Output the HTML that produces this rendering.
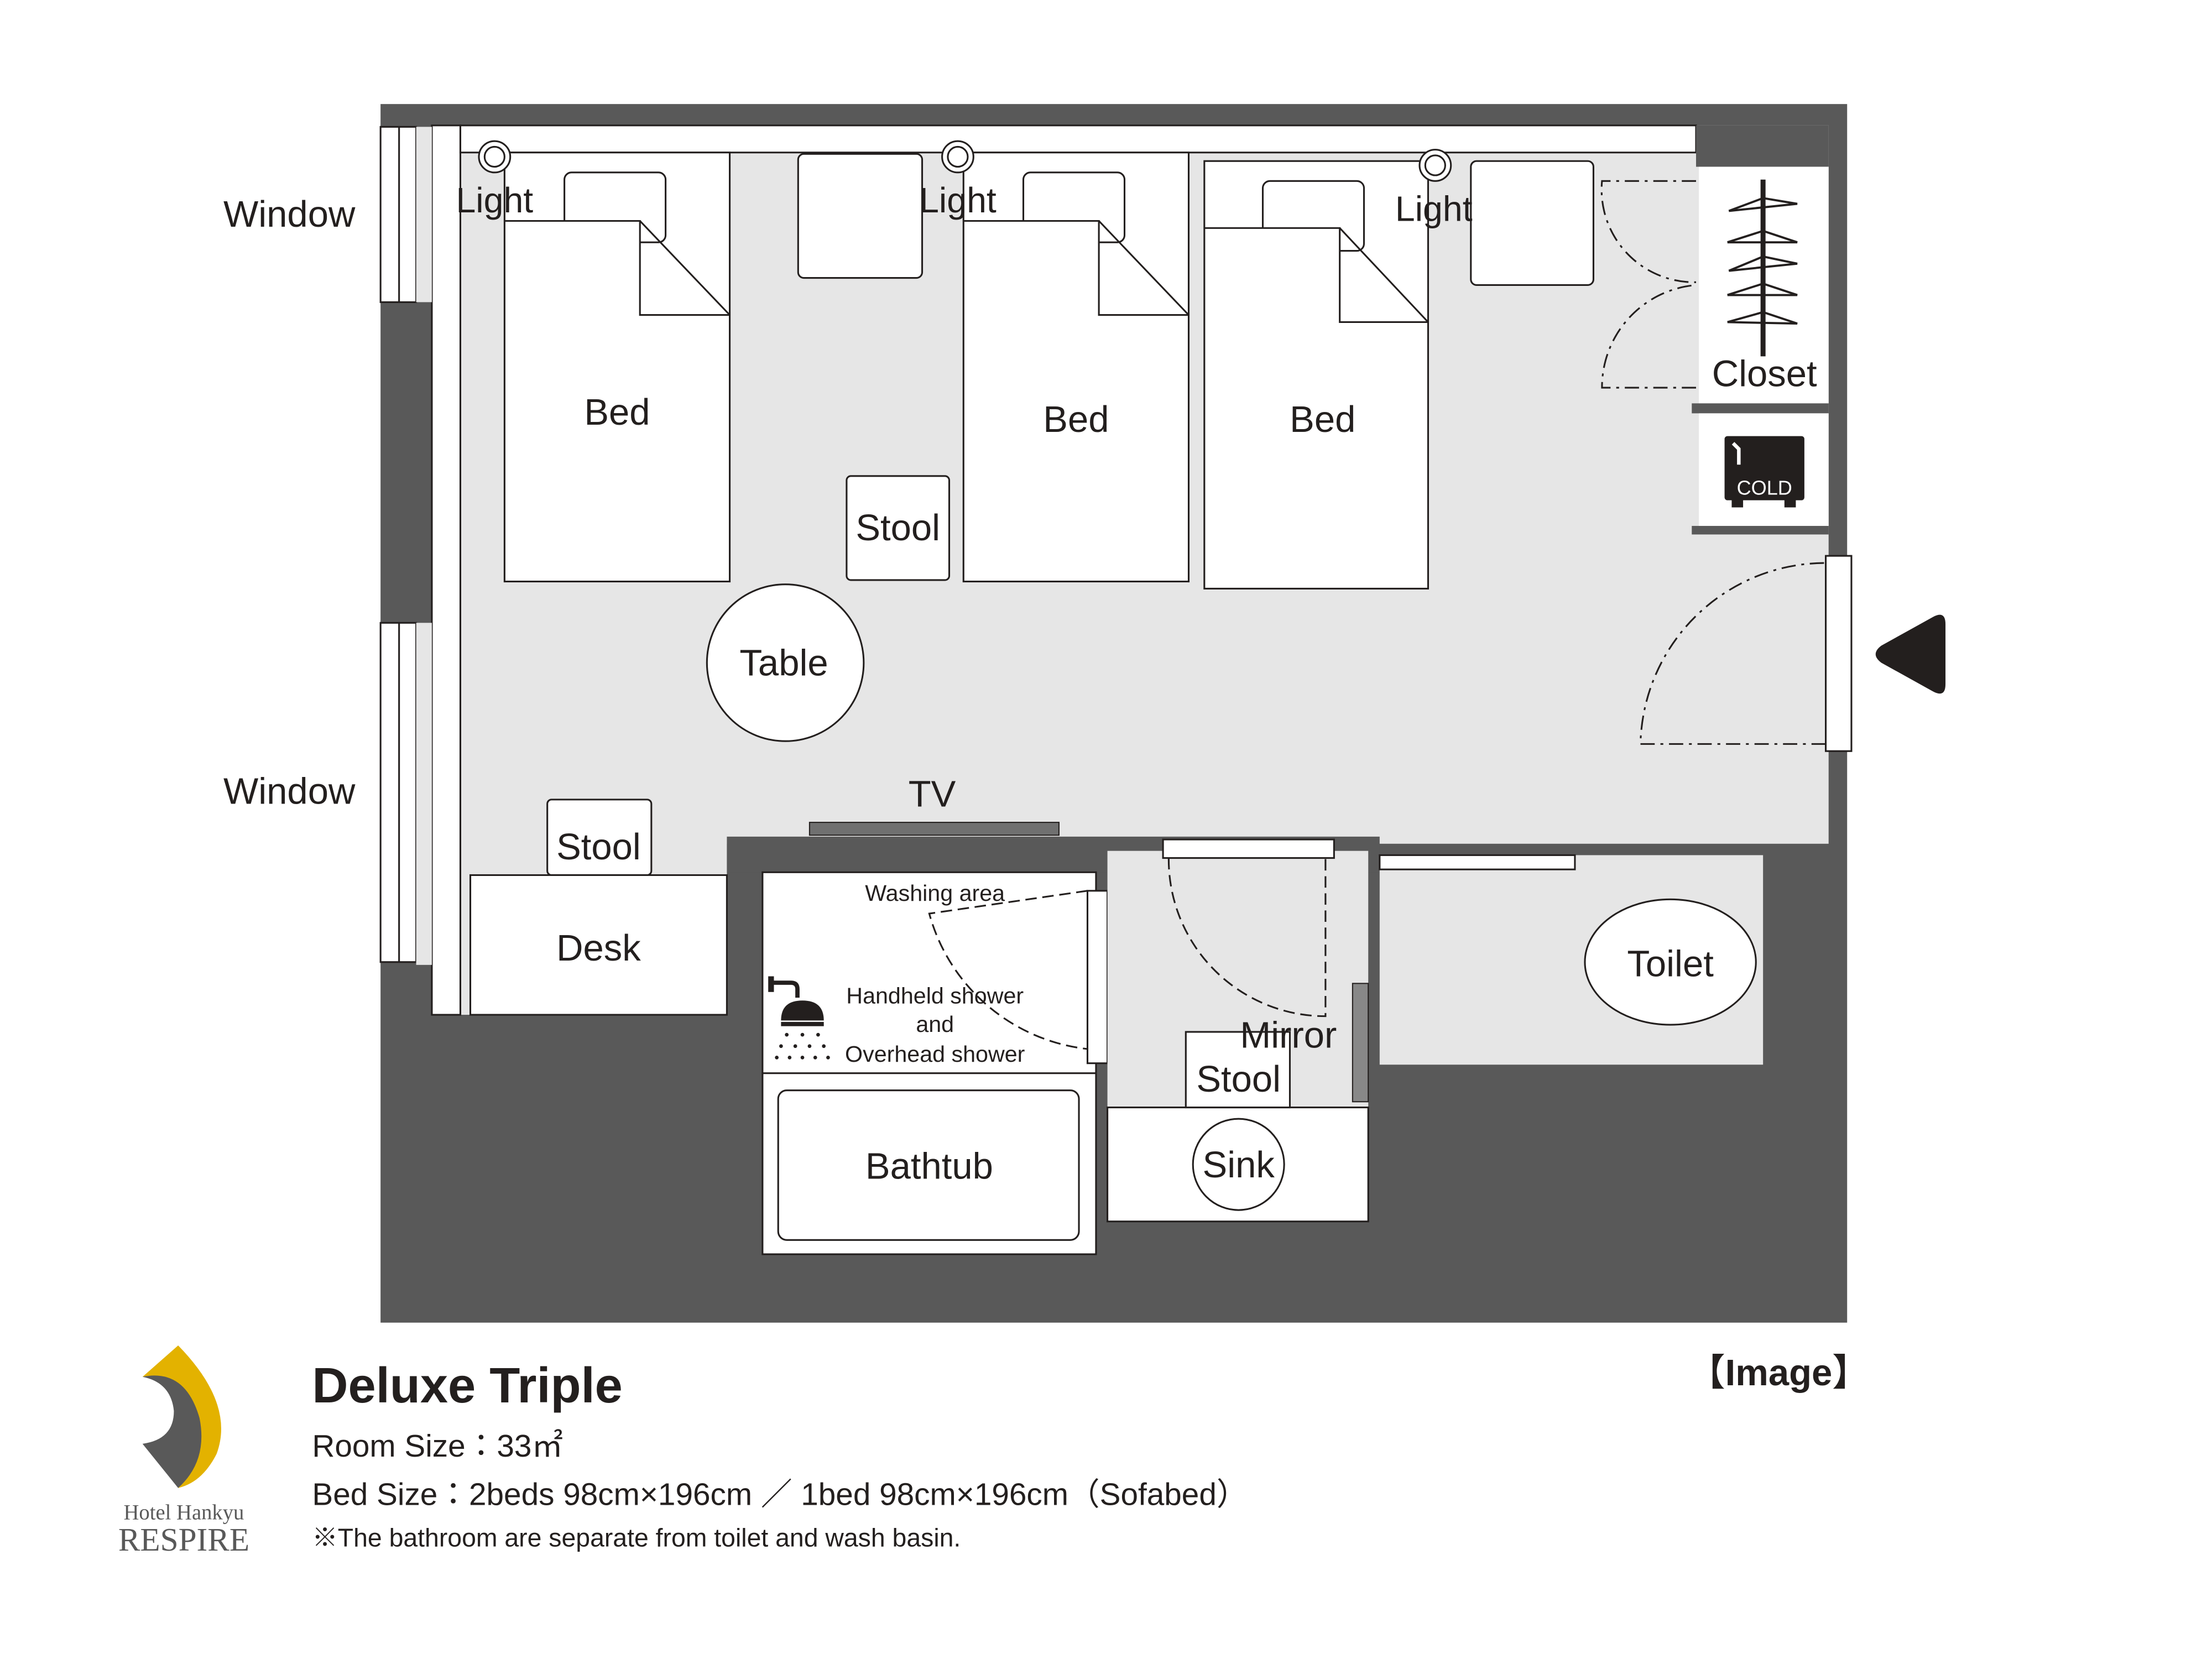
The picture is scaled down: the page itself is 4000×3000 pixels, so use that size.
<!DOCTYPE html>
<html><head><meta charset="utf-8"><style>
html,body{margin:0;padding:0;background:#fff;}
svg{display:block;}
text{font-family:"Liberation Sans","Noto Sans CJK JP",sans-serif;fill:#231f1e;}
</style></head><body>
<svg width="4000" height="3000" viewBox="0 0 1552 1164" preserveAspectRatio="none" xmlns="http://www.w3.org/2000/svg">
<rect width="1552" height="1164" fill="#fff"/>
<!-- outer dark -->
<rect x="267" y="73" width="1029" height="855" fill="#595959"/>
<!-- main floor -->
<rect x="303" y="88" width="980" height="504" fill="#e6e6e6"/>
<rect x="303" y="587" width="207" height="125" fill="#e6e6e6"/>
<rect x="510" y="587" width="458" height="25" fill="#595959"/>
<!-- left white strip -->
<rect x="303" y="88" width="20" height="624" fill="#fff" stroke="#231f1e" stroke-width="1.2"/>
<!-- top strip -->
<rect x="323" y="88" width="867" height="19" fill="#fff" stroke="#231f1e" stroke-width="1.2"/>
<!-- closet & fridge -->
<rect x="1190" y="88" width="93" height="29" fill="#595959"/>
<rect x="1192" y="117" width="91" height="166" fill="#fff"/>
<rect x="1187" y="283" width="96" height="7" fill="#595959"/>
<rect x="1192" y="290" width="91" height="79" fill="#fff"/>
<rect x="1187" y="369" width="96" height="6" fill="#595959"/>
<g stroke="#231f1e" fill="none">
<line x1="1237" y1="126" x2="1237" y2="250" stroke-width="3.5"/>
<g stroke-width="1.5">
<path d="M1213,148 L1237,139 L1261,143 L1213,148"/>
<path d="M1212,170 L1237,162 L1261,170 L1212,170"/>
<path d="M1213,190 L1237,180 L1261,185 L1213,190"/>
<path d="M1212,207 L1237,199 L1261,207 L1212,207"/>
<path d="M1212,226 L1237,219 L1261,227 L1212,226"/>
</g></g>
<text x="1238" y="271" font-size="26" text-anchor="middle">Closet</text>
<rect x="1210" y="306" width="56" height="45" rx="2" fill="#231f1e"/>
<rect x="1215" y="350" width="8" height="6" fill="#231f1e"/><rect x="1252" y="350" width="8" height="6" fill="#231f1e"/>
<path d="M1216,311 L1220,315 L1220,326" stroke="#fff" stroke-width="2.5" fill="none"/>
<text x="1238" y="347" font-size="14" text-anchor="middle" style="fill:#fff">COLD</text>
<!-- windows -->
<g fill="#fff" stroke="#231f1e" stroke-width="1.2">
<rect x="267" y="89" width="25" height="123"/><line x1="280" y1="89" x2="280" y2="212"/>
<rect x="267" y="437" width="25" height="238"/><line x1="280" y1="437" x2="280" y2="675"/>
</g>
<rect x="292" y="89" width="11" height="123" fill="#e6e6e6"/>
<rect x="292" y="437" width="11" height="240" fill="#e6e6e6"/>
<text x="203" y="159" font-size="26" text-anchor="middle">Window</text>
<text x="203" y="564" font-size="26" text-anchor="middle">Window</text>
<!-- beds -->
<g fill="#fff" stroke="#231f1e" stroke-width="1.2">
<rect x="354" y="107" width="158" height="301"/>
<rect x="396" y="121" width="71" height="49" rx="5"/>
<path d="M354,155 L449,155 L449,221 L512,221 M449,155 L512,221"/>
<rect x="676" y="107" width="158" height="301"/>
<rect x="718" y="121" width="71" height="49" rx="5"/>
<path d="M676,155 L771,155 L771,221 L834,221 M771,155 L834,221"/>
<rect x="845" y="113" width="157" height="300"/>
<rect x="886" y="127" width="71" height="49" rx="5"/>
<path d="M845,160 L940,160 L940,226 L1002,226 M940,160 L1002,226"/>
<rect x="560" y="108" width="87" height="87" rx="4"/>
<rect x="1032" y="113" width="86" height="87" rx="4"/>
<rect x="594" y="334" width="72" height="73" rx="3"/>
<circle cx="551" cy="465" r="55"/>
<rect x="384" y="561" width="73" height="53" rx="3"/>
<rect x="330" y="614" width="180" height="98"/>
</g>
<g fill="#fff" stroke="#231f1e" stroke-width="1.2">
<circle cx="347" cy="110" r="11"/><circle cx="347" cy="110" r="7"/>
<circle cx="672" cy="110" r="11"/><circle cx="672" cy="110" r="7"/>
<circle cx="1007" cy="116" r="11"/><circle cx="1007" cy="116" r="7"/>
</g>
<text x="433" y="298" font-size="26" text-anchor="middle">Bed</text>
<text x="755" y="303" font-size="26" text-anchor="middle">Bed</text>
<text x="928" y="303" font-size="26" text-anchor="middle">Bed</text>
<text x="347" y="149" font-size="25" text-anchor="middle">Light</text>
<text x="672" y="149" font-size="25" text-anchor="middle">Light</text>
<text x="1006" y="155" font-size="25" text-anchor="middle">Light</text>
<text x="630" y="379" font-size="26" text-anchor="middle">Stool</text>
<text x="550" y="474" font-size="26" text-anchor="middle">Table</text>
<text x="420" y="603" font-size="26" text-anchor="middle">Stool</text>
<text x="420" y="674" font-size="26" text-anchor="middle">Desk</text>
<text x="654" y="566" font-size="26" text-anchor="middle">TV</text>
<rect x="568" y="577" width="175" height="9" fill="#707070" stroke="#231f1e" stroke-width="0.8"/>
<!-- closet doors dashed -->
<g fill="none" stroke="#231f1e" stroke-width="1.2" stroke-dasharray="10,4,2,4">
<path d="M1190,127 L1124,127 A65,65 0 0,0 1190,198"/>
<path d="M1190,272 L1124,272 A72,72 0 0,1 1190,200"/>
<path d="M1281,522 L1151,522 A130,130 0 0,1 1281,395"/>
</g>
<rect x="1281" y="390" width="18" height="137" fill="#fff" stroke="#231f1e" stroke-width="1.2"/>
<path d="M1320,453 L1356,433 Q1365,428 1365,438 L1365,480 Q1365,490 1356,485 L1320,465 Q1312,459 1320,453 Z" fill="#231f1e"/>
<!-- bathroom -->
<rect x="535" y="612" width="234" height="268" fill="#fff" stroke="#231f1e" stroke-width="1.2"/>
<line x1="535" y1="753" x2="769" y2="753" stroke="#231f1e" stroke-width="1.2"/>
<rect x="546" y="765" width="211" height="105" rx="6" fill="#fff" stroke="#231f1e" stroke-width="1.2"/>
<text x="652" y="827" font-size="26" text-anchor="middle">Bathtub</text>
<rect x="763" y="625" width="14" height="121" fill="#fff" stroke="#231f1e" stroke-width="1.2"/>
<path d="M763,625 L652,641 A130,130 0 0,0 763,736" fill="none" stroke="#231f1e" stroke-width="1.2" stroke-dasharray="8,4"/>
<text x="656" y="632" font-size="16" text-anchor="middle">Washing area</text>
<text x="656" y="704" font-size="16" text-anchor="middle">Handheld shower</text>
<text x="656" y="724" font-size="16" text-anchor="middle">and</text>
<text x="656" y="745" font-size="16" text-anchor="middle">Overhead shower</text>
<g fill="#231f1e">
<rect x="539" y="685" width="4" height="11"/>
<path d="M543,688 L555,688 Q561,688 561,694 L561,700 L558,700 L558,694 Q558,691 555,691 L543,691 Z"/>
<path d="M548,716 Q548,702 563,702 Q578,702 578,716 Z"/>
<rect x="548" y="717" width="30" height="3"/>
<g font-size="0"><circle cx="552" cy="726" r="1.3"/><circle cx="563" cy="726" r="1.3"/><circle cx="574" cy="726" r="1.3"/>
<circle cx="548" cy="734" r="1.3"/><circle cx="558" cy="734" r="1.3"/><circle cx="568" cy="734" r="1.3"/><circle cx="578" cy="734" r="1.3"/>
<circle cx="545" cy="742" r="1.3"/><circle cx="554" cy="742" r="1.3"/><circle cx="563" cy="742" r="1.3"/><circle cx="572" cy="742" r="1.3"/><circle cx="581" cy="742" r="1.3"/></g>
</g>
<!-- washroom -->
<rect x="777" y="597" width="183" height="180" fill="#e6e6e6"/>
<rect x="777" y="777" width="183" height="80" fill="#fff" stroke="#231f1e" stroke-width="1.2"/>
<circle cx="869" cy="817" r="32" fill="#fff" stroke="#231f1e" stroke-width="1.2"/>
<text x="869" y="826" font-size="26" text-anchor="middle">Sink</text>
<rect x="832" y="724" width="73" height="53" fill="#fff" stroke="#231f1e" stroke-width="1.2"/>
<text x="869" y="766" font-size="26" text-anchor="middle">Stool</text>
<rect x="949" y="690" width="11" height="83" fill="#888" stroke="#231f1e" stroke-width="0.8"/>
<text x="904" y="735" font-size="26" text-anchor="middle">Mirror</text>
<rect x="816" y="589" width="120" height="13" fill="#fff" stroke="#231f1e" stroke-width="1.2"/>
<path d="M820,602 A110,110 0 0,0 930,713 L930,602" fill="none" stroke="#231f1e" stroke-width="1.2" stroke-dasharray="8,4"/>
<!-- toilet -->
<rect x="968" y="600" width="269" height="147" fill="#e6e6e6"/>
<rect x="968" y="600" width="137" height="10" fill="#fff" stroke="#231f1e" stroke-width="1.2"/>
<ellipse cx="1172" cy="675" rx="60" ry="44" fill="#fff" stroke="#231f1e" stroke-width="1.2"/>
<text x="1172" y="685" font-size="26" text-anchor="middle">Toilet</text>
<!-- logo -->
<path d="M125,944 Q165,985 152,1020 Q142,1040 125,1044 Q148,1010 124,975 Q112,963 100,966 Z" fill="#e3b200"/>
<path d="M100,966 Q130,960 140,995 Q146,1025 125,1044 L100,1013 Q122,1010 122,990 Q120,970 100,966 Z" fill="#595959"/>
<text x="129" y="1066" font-size="15" text-anchor="middle" style="font-family:'Liberation Serif',serif;fill:#595959">Hotel Hankyu</text>
<text x="129" y="1088" font-size="23" text-anchor="middle" style="font-family:'Liberation Serif',serif;fill:#595959">RESPIRE</text>
<!-- caption -->
<text x="219" y="984" font-size="35" font-weight="bold">Deluxe Triple</text>
<text x="219" y="1022" font-size="22">Room Size：33㎡</text>
<text x="219" y="1056" font-size="22">Bed Size：2beds 98cm×196cm ／ 1bed 98cm×196cm（Sofabed）</text>
<text x="219" y="1085" font-size="18">※The bathroom are separate from toilet and wash basin.</text>
<text x="1248" y="972" font-size="26" font-weight="bold" text-anchor="middle">【Image】</text>
</svg>
</body></html>
